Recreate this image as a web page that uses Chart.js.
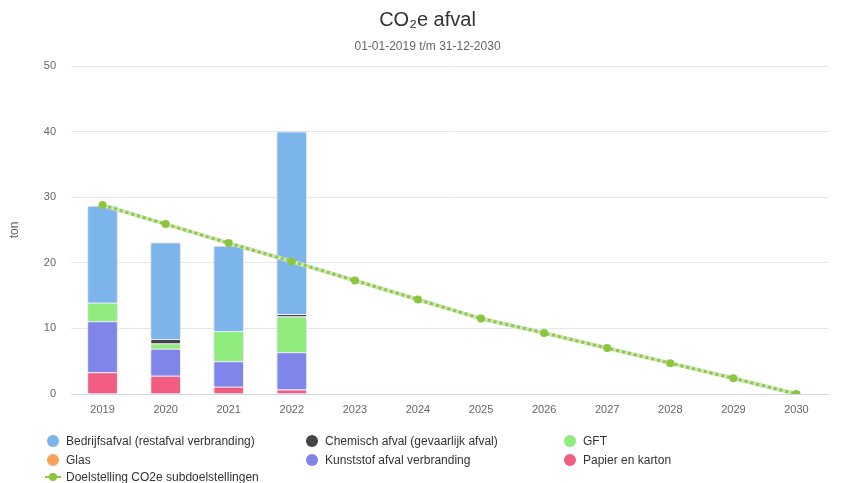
<!DOCTYPE html>
<html>
<head>
<meta charset="utf-8">
<script src="https://cdn.jsdelivr.net/npm/chart.js@4/dist/chart.umd.min.js"></script>
<style>
  html, body { margin:0; padding:0; background:#fff; }
  #wrap { position:relative; width:855px; height:483px; }
  #c { position:absolute; left:0; top:0; }
  #legend { position:absolute; left:0; top:0; width:855px; height:483px; pointer-events:none;
            font-family:"Liberation Sans", Arial, sans-serif; font-size:12px; color:#333; }
  .li { position:absolute; white-space:nowrap; line-height:14px; }
  .dot { position:absolute; width:12px; height:12px; border-radius:50%; }
</style>
</head>
<body>
<div id="wrap">
  <canvas id="c" width="855" height="483"></canvas>
  <div id="legend"></div>
</div>
<script>
// ---- data ----
const years = ['2019','2020','2021','2022','2023','2024','2025','2026','2027','2028','2029','2030'];
const bedrijfsafval = [14.8, 14.7, 13.0, 27.8, 0, 0, 0, 0, 0, 0, 0, 0];
const chemisch      = [0, 0.7, 0, 0.4, 0, 0, 0, 0, 0, 0, 0, 0];
const gft           = [2.8, 0.8, 4.6, 5.45, 0, 0, 0, 0, 0, 0, 0, 0];
const glas          = [0, 0, 0, 0, 0, 0, 0, 0, 0, 0, 0, 0];
const kunststof     = [7.8, 4.1, 3.9, 5.65, 0, 0, 0, 0, 0, 0, 0, 0];
const papier        = [3.3, 2.8, 1.1, 0.7, 0, 0, 0, 0, 0, 0, 0, 0];
const doelstelling  = [28.8, 25.9, 23.0, 20.2, 17.3, 14.4, 11.5, 9.3, 7.0, 4.7, 2.4, 0];

const names = {
  bedrijf: 'Bedrijfsafval (restafval verbranding)',
  chem: 'Chemisch afval (gevaarlijk afval)',
  gft: 'GFT',
  glas: 'Glas',
  kunst: 'Kunststof afval verbranding',
  papier: 'Papier en karton',
  doel: 'Doelstelling CO2e subdoelstellingen'
};
const colors = {
  bedrijf: '#7cb5ec', chem: '#434348', gft: '#90ed7d', glas: '#f7a35c',
  kunst: '#8085e9', papier: '#f15c80', doel: '#8cc63f'
};

const FONT = '"Liberation Sans", Arial, sans-serif';

function barDs(key, data) {
  return { type:'bar', label:names[key], data:data, backgroundColor:colors[key],
           borderColor:'#ffffff', borderWidth:1, stack:'bars', order:3,
           categoryPercentage:1.0, barPercentage:0.485 };
}

const shadowPlugin = {
  id:'barShadow',
  beforeDatasetDraw(chart, args) {
    if (args.meta.type !== 'bar') return;
    const ctx = chart.ctx;
    ctx.save();
    ctx.shadowColor = 'rgba(110,110,170,0.4)';
    ctx.shadowBlur = 4;
  },
  afterDatasetDraw(chart, args) {
    if (args.meta.type !== 'bar') return;
    chart.ctx.restore();
  }
};

const chart = new Chart(document.getElementById('c'), {
  data: {
    labels: years,
    datasets: [
      barDs('papier', papier),
      barDs('kunst', kunststof),
      barDs('glas', glas),
      barDs('gft', gft),
      barDs('chem', chemisch),
      barDs('bedrijf', bedrijfsafval),
      { type:'line', label:'_under', data:doelstelling, borderColor:'#cfe6b3', borderWidth:4,
        pointRadius:0, stack:'l1', order:2, tension:0 },
      { type:'line', label:names.doel, data:doelstelling, borderColor:'#8dc650', borderWidth:3,
        borderDash:[3,3], pointRadius:4, pointHoverRadius:4, pointBackgroundColor:colors.doel,
        pointBorderWidth:0, stack:'l2', order:1, tension:0 }
    ]
  },
  options: {
    responsive:false,
    animation:false,
    layout:{ padding:{ left:0, right:0, top:0, bottom:69 } },
    plugins:{
      legend:{ display:false },
      tooltip:{ enabled:false },
      title:{ display:true, text:'CO₂e afval', color:'#333333',
              font:{ family:FONT, size:20, weight:'normal' }, padding:{ top:8, bottom:7 } },
      subtitle:{ display:true, text:'01-01-2019 t/m 31-12-2030', color:'#666666',
              font:{ family:FONT, size:12, weight:'normal' }, padding:{ top:0, bottom:12.6 } }
    },
    scales:{
      x:{
        stacked:true,
        grid:{ display:false, drawTicks:false },
        border:{ display:true, color:'#ccd6eb', width:1 },
        ticks:{ color:'#666666', font:{ family:FONT, size:11 }, padding:9, maxRotation:0 },
        afterFit(s){ s.height = 20; }
      },
      y:{
        stacked:true,
        min:0, max:50,
        grid:{ color:(c)=> c.tick && c.tick.value===0 ? 'rgba(0,0,0,0)' : '#e6e6e6', drawTicks:false },
        border:{ display:false },
        ticks:{ stepSize:10, color:'#666666', font:{ family:FONT, size:11 }, padding:15 },
        title:{ display:true, text:'ton', color:'#666666', font:{ family:FONT, size:12 }, padding:{ top:7, bottom:0 } },
        afterFit(s){ s.width = 71; }
      },
      yRight:{
        position:'right',
        display:true,
        grid:{ display:false, drawTicks:false },
        border:{ display:false },
        ticks:{ display:false },
        afterFit(s){ s.width = 27; }
      }
    }
  },
  plugins:[shadowPlugin]
});

// ---- HTML legend (3 columns like the reference) ----
const legendOrder = ['bedrijf','chem','gft','glas','kunst','papier','doel'];
const colX = [53, 312, 570];
const rowY = [441, 460, 477];
const lg = document.getElementById('legend');
legendOrder.forEach((key, i) => {
  const col = i % 3, row = Math.floor(i / 3);
  const cx = colX[col], cy = rowY[row];
  if (key === 'doel') {
    const ln = document.createElement('div');
    ln.style.cssText = `position:absolute;left:${cx-8}px;top:${cy-1}px;width:16px;height:2px;background:${colors.doel};`;
    lg.appendChild(ln);
    const d = document.createElement('div');
    d.className = 'dot';
    d.style.cssText = `left:${cx-4}px;top:${cy-4}px;width:8px;height:8px;background:${colors.doel};`;
    lg.appendChild(d);
  } else {
    const d = document.createElement('div');
    d.className = 'dot';
    d.style.left = (cx-6)+'px'; d.style.top = (cy-6)+'px'; d.style.background = colors[key];
    lg.appendChild(d);
  }
  const t = document.createElement('div');
  t.className = 'li';
  t.style.left = (cx+13)+'px'; t.style.top = (cy-7)+'px';
  t.textContent = names[key];
  lg.appendChild(t);
});
</script>
</body>
</html>
